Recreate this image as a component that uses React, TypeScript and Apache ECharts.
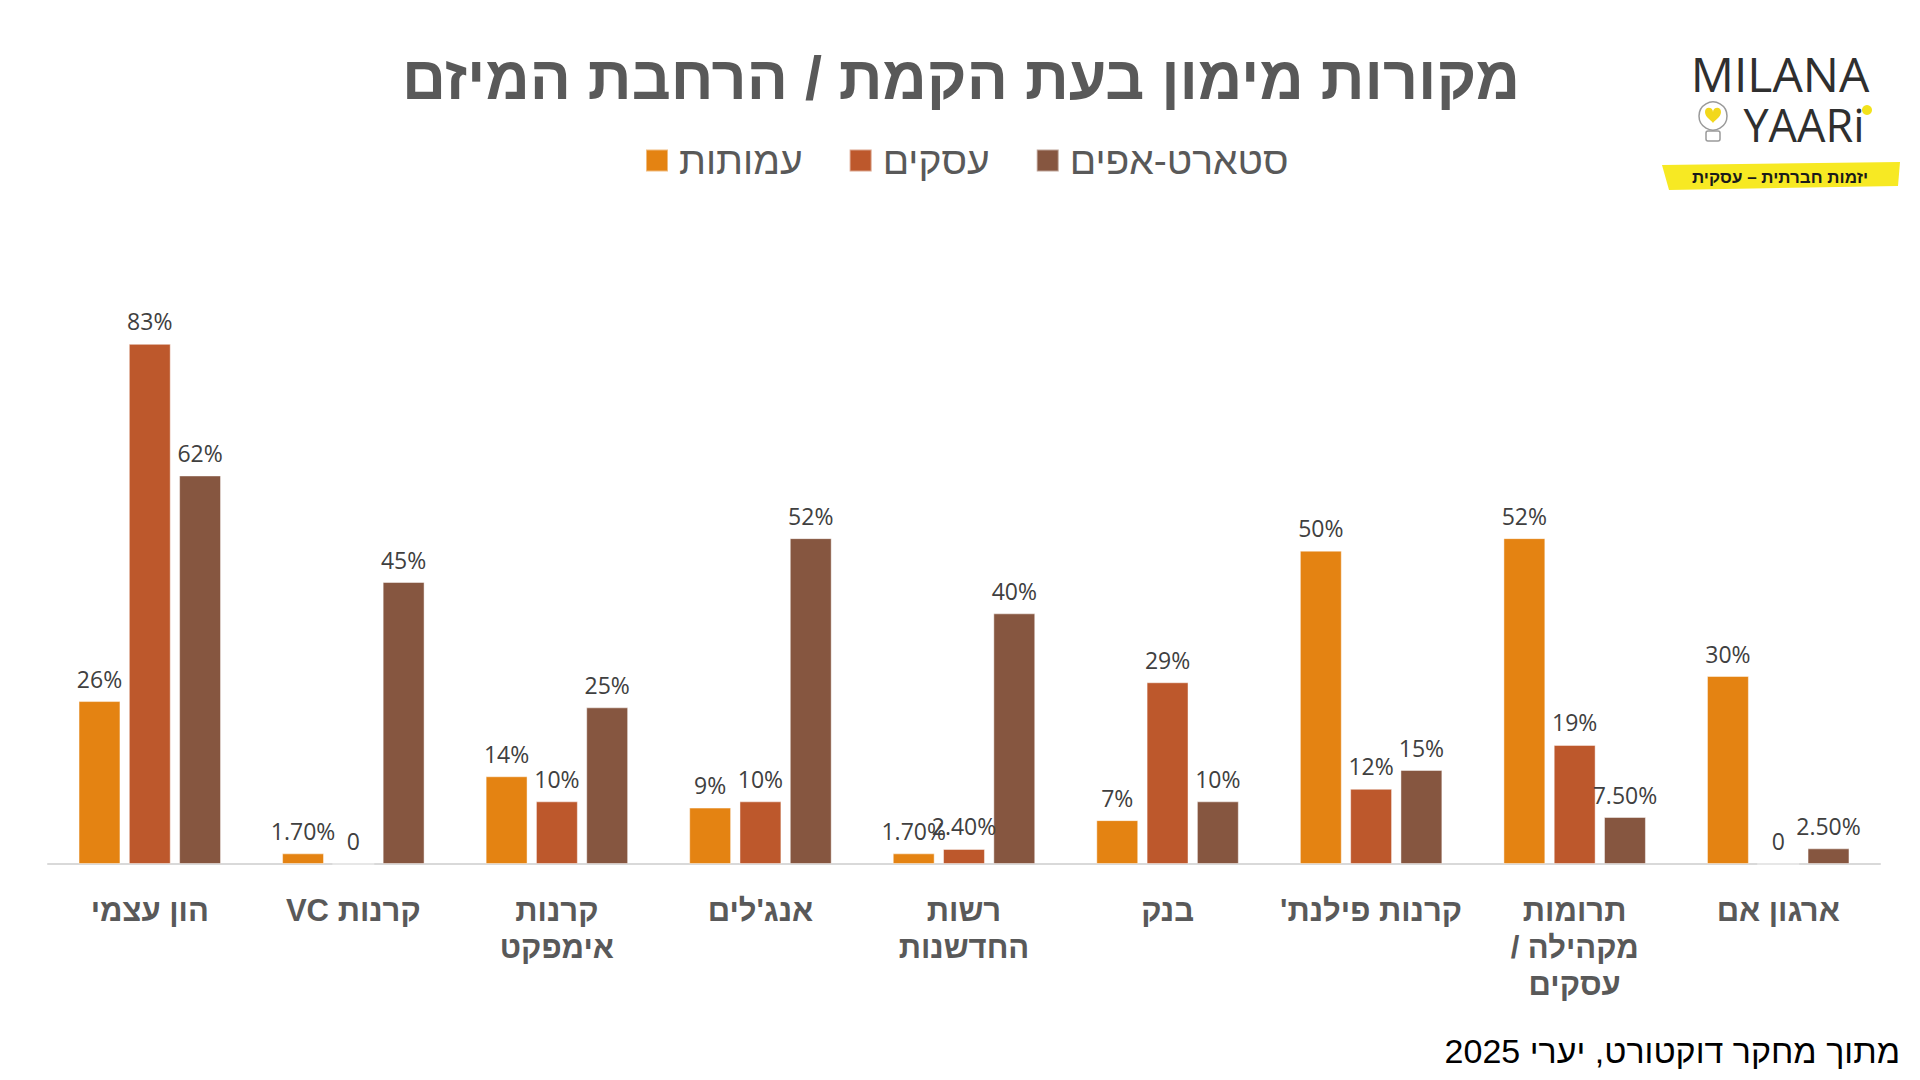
import { useEffect, useRef } from 'react';
import * as echarts from 'echarts';

const categories = [
  'הון עצמי',
  'קרנות VC',
  'קרנות\nאימפקט',
  "אנג'לים",
  'רשות\nהחדשנות',
  'בנק',
  "קרנות פילנת'",
  'תרומות\nמקהילה /\nעסקים',
  'ארגון אם',
];
const seriesNames = ['עמותות', 'עסקים', 'סטארט-אפים'];
const nonprofits = [26, 1.7, 14, 9, 1.7, 7, 50, 52, 30];
const businesses = [83, 0, 10, 10, 2.4, 29, 12, 19, 0];
const startups = [62, 45, 25, 52, 40, 10, 15, 7.5, 2.5];
const seriesColors = ['#E48312', '#BD582C', '#865640'];

const titleText = 'מקורות מימון בעת הקמת / הרחבת המיזם';
const footnote = 'מתוך מחקר דוקטורט, יערי 2025';
const tagline = 'יזמות חברתית – עסקית';

const HEB = '"Liberation Sans", "DejaVu Sans", sans-serif';

// wrap a line in an RTL embedding so neutral chars land on the right side
const rtl = (s: string) => '\u202B' + s + '\u202C';

const heartPath =
  'M0,-3 C0,-8 -8,-9 -8,-3 C-8,2 -2,5 0,8 C2,5 8,2 8,-3 C8,-9 0,-8 0,-3 Z';
echarts.graphic.registerShape('heart', echarts.graphic.extendPath(heartPath, {}));

const pctLabel = (v: number) => {
  if (v === 0) return '0';
  if (Number.isInteger(v)) return `${v}%`;
  return `${v.toFixed(2)}%`;
};

export default function App() {
  const chartRef = useRef<HTMLDivElement>(null);

  useEffect(() => {
    document.body.style.margin = '0';
    if (!chartRef.current) return;
    const chart = echarts.init(chartRef.current, null, { renderer: 'svg' });

    const values = [nonprofits, businesses, startups];

    const option: echarts.EChartsOption = {
      animation: false,
      backgroundColor: '#ffffff',
      legend: {
        data: seriesNames,
        left: 640,
        top: 136,
        itemWidth: 22,
        itemHeight: 22,
        itemGap: 46,
        icon: 'rect',
        textStyle: {
          color: '#595959',
          fontFamily: HEB,
          fontSize: 39,
          padding: [0, 0, 0, 6],
        },
      },
      grid: {
        left: 48,
        right: 40,
        top: 300,
        bottom: 216,
        containLabel: false,
      },
      xAxis: {
        type: 'category',
        data: categories,
        axisTick: { show: false },
        axisLine: { lineStyle: { color: '#D9D9D9', width: 2 } },
        axisLabel: {
          interval: 0,
          margin: 28,
          color: '#595959',
          fontFamily: HEB,
          fontWeight: 'bold',
          fontSize: 31,
          lineHeight: 37,
          formatter: (v: string) => v.split('\n').map(rtl).join('\n'),
        },
      },
      yAxis: {
        type: 'value',
        min: 0,
        max: 90,
        show: false,
        splitLine: { show: false },
      },
      series: seriesNames.map((name, i) => ({
        name,
        type: 'bar',
        data: values[i],
        barGap: '20%',
        barCategoryGap: '30%',
        itemStyle: {
          color: seriesColors[i],
          borderColor: 'rgba(255,255,255,0.45)',
          borderWidth: 1,
        },
        label: {
          show: true,
          position: 'top',
          distance: 11,
          color: '#404040',
          fontFamily: '"Open Sans", sans-serif',
          fontSize: 23,
          formatter: (p: any) => pctLabel(p.value as number),
        },
      })),
      graphic: [
        {
          type: 'text',
          x: 961,
          y: 78,
          style: {
            text: titleText,
            fill: '#595959',
            font: `bold 61px ${HEB}`,
            align: 'center',
            verticalAlign: 'middle',
          },
        },
        {
          type: 'text',
          x: 1900,
          y: 1051,
          style: {
            text: footnote,
            fill: '#000000',
            font: `34px ${HEB}`,
            align: 'right',
            verticalAlign: 'middle',
          },
        },
        // logo
        {
          type: 'text',
          x: 1780,
          y: 73,
          style: {
            text: 'MILANA',
            fill: '#2f2f2f',
            font: '48px "Open Sans", sans-serif',
            lineHeight: 44,
            align: 'center',
            verticalAlign: 'middle',
          },
        },
        {
          type: 'text',
          x: 1804,
          y: 124,
          style: {
            text: 'YAARi',
            fill: '#2f2f2f',
            font: '45px "Open Sans", sans-serif',
            lineHeight: 42,
            align: 'center',
            verticalAlign: 'middle',
          },
        },
        {
          type: 'circle',
          shape: { cx: 1867, cy: 110, r: 5 },
          style: { fill: '#F2E21B' },
        },
        {
          type: 'circle',
          shape: { cx: 1713, cy: 116, r: 14 },
          style: { fill: 'none', stroke: '#9a9a9a', lineWidth: 1.5 },
        },
        {
          type: 'heart',
          x: 1713,
          y: 115,
          scaleX: 1,
          scaleY: 1,
          style: { fill: '#F2D81B' },
        },
        {
          type: 'rect',
          shape: { x: 1706, y: 131, width: 14, height: 10, r: 2 },
          style: { fill: 'none', stroke: '#9a9a9a', lineWidth: 1.5 },
        },
        {
          type: 'polygon',
          shape: {
            points: [
              [1662, 165],
              [1900, 162],
              [1898, 186],
              [1669, 190],
            ],
          },
          style: { fill: '#F7E923' },
        },
        {
          type: 'text',
          x: 1780,
          y: 177,
          style: {
            text: tagline,
            fill: '#1a1a1a',
            font: `bold 17px ${HEB}`,
            align: 'center',
            verticalAlign: 'middle',
          },
        },
      ],
    };

    chart.setOption(option);

    return () => {
      chart.dispose();
    };
  }, []);

  return <div ref={chartRef} style={{ width: '1920px', height: '1080px' }} />;
}
